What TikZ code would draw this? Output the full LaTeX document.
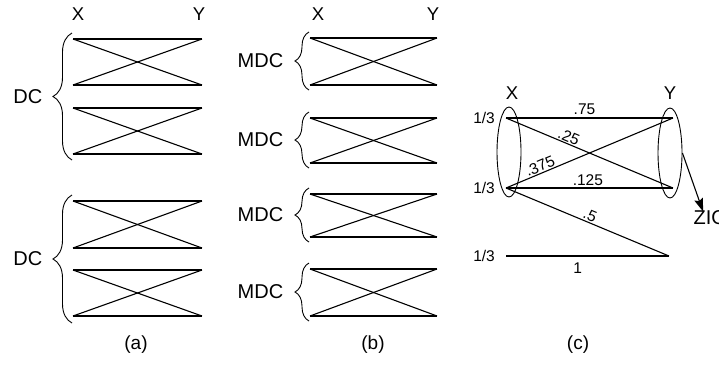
\documentclass[tikz,border=0pt]{standalone}
\usepackage{fontspec}
\setmainfont{Liberation Sans}
\usetikzlibrary{arrows.meta, positioning, calc, decorations.pathreplacing, shapes.geometric}
\tikzset{
  edge/.style   ={line width=1.1pt, black},
  brcbig/.style ={decorate, decoration={brace, amplitude=19pt}, line width=0.9pt},
  brcsm/.style  ={decorate, decoration={brace, amplitude=14pt}, line width=0.9pt},
  grp/.style    ={font=\fontsize{20}{21}\selectfont},
  side/.style   ={font=\fontsize{18.5}{19}\selectfont},
  wt/.style     ={font=\fontsize{15.5}{16}\selectfont, inner sep=1pt},
  capt/.style   ={font=\fontsize{19}{20}\selectfont},
  blob/.style   ={draw, ellipse, line width=0.9pt, inner sep=0pt,
                  minimum width=24pt, minimum height=90pt},
  arr/.style    ={-{Stealth[length=13pt,width=9pt,inset=2pt]}, line width=1.1pt},
}

\begin{document}
\begin{tikzpicture}[x=1pt, y=-1pt]
\useasboundingbox (0,0) rectangle (719,365);

%% ════════════════════════════════════════════════════════════
%%  PANEL (a) — two DC groups
%% ════════════════════════════════════════════════════════════
\node[side] (ax) at (78,14)  {X};
\node[side] (ay) at (199,14) {Y};

\foreach \t/\b [count=\i] in {39/85, 108/154, 201/248, 270/316} {
  \coordinate (a\i tl) at (73,\t);
  \coordinate (a\i tr) at (202,\t);
  \coordinate (a\i bl) at (73,\b);
  \coordinate (a\i br) at (202,\b);
  \draw[edge] (a\i tl) -- (a\i tr);
  \draw[edge] (a\i bl) -- (a\i br);
  \draw[edge] (a\i tl) -- (a\i br);
  \draw[edge] (a\i bl) -- (a\i tr);
}

% braces
\draw[brcbig] (72,160) -- (72,33)
  node[grp, midway, left=26pt] (adc1) {DC};
\draw[brcbig] (72,323) -- (72,195)
  node[grp, midway, left=26pt] (adc2) {DC};

\node[capt] (acap) at (136,345) {(a)};

%% ════════════════════════════════════════════════════════════
%%  PANEL (b) — four MDC groups
%% ════════════════════════════════════════════════════════════
\node[side] (bx) at (318,14) {X};
\node[side] (by) at (433,14) {Y};

\foreach \t/\b [count=\i] in {38/85, 118/163, 194/237, 269/316} {
  \coordinate (b\i tl) at (310,\t);
  \coordinate (b\i tr) at (437,\t);
  \coordinate (b\i bl) at (310,\b);
  \coordinate (b\i br) at (437,\b);
  \draw[edge] (b\i tl) -- (b\i tr);
  \draw[edge] (b\i bl) -- (b\i br);
  \draw[edge] (b\i tl) -- (b\i br);
  \draw[edge] (b\i bl) -- (b\i tr);
  % brace
  \draw[brcsm] ($(b\i bl)+(-1,5)$) -- ($(b\i tl)+(-1,-6)$)
    node[grp, midway, left=22pt] {MDC};
}

\node[capt] (bcap) at (373,345) {(b)};

%% ════════════════════════════════════════════════════════════
%%  PANEL (c) — weighted X/Y graph
%% ════════════════════════════════════════════════════════════
\node[blob] (ex) at (509,152) {};
\node[blob] (ey) at (670,153) {};

\node[side] (cx) at (512,93) {X};
\node[side] (cy) at (670,93) {Y};

\coordinate (x1) at (506,118);
\coordinate (x2) at (506,188);
\coordinate (x3) at (506,256);
\coordinate (y1) at (673,118);
\coordinate (y2) at (673,188);
\coordinate (y3) at (669,256);

\node[wt, left=10pt of x1] (p1) {1/3};
\node[wt, left=10pt of x2] (p2) {1/3};
\node[wt, left=10pt of x3] (p3) {1/3};

\draw[edge] (x1) -- (y1) node[wt, pos=0.47, above=2pt] {.75};
\draw[edge] (x1) -- (y2) node[wt, pos=0.36, above, sloped] {.25};
\draw[edge] (x2) -- (y1) node[wt, pos=0.22, above, sloped] {.375};
\draw[edge] (x2) -- (y2) node[wt, pos=0.49, above=1pt] {.125};
\draw[edge] (x2) -- (y3) node[wt, pos=0.5, above, sloped] {.5};
\draw[edge] (x3) -- (y3) node[wt, pos=0.44, below=5pt] {1};

% arrow to ZIO
\node[grp, anchor=west] (zio) at (690,218) {ZIO};
\draw[arr] (ey.east) -- ($(zio.north west)+(13,4)$);

\node[capt] (ccap) at (578,345) {(c)};

\end{tikzpicture}
\end{document}
